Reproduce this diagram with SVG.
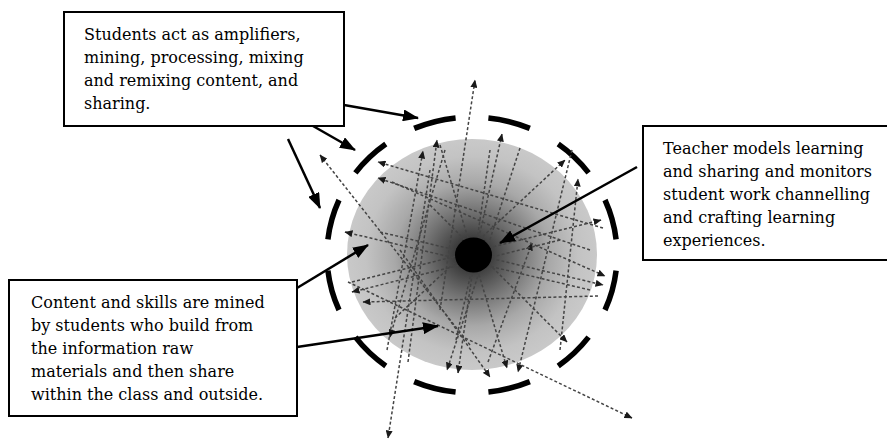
<svg xmlns="http://www.w3.org/2000/svg" width="887" height="441" viewBox="0 0 887 441">
  <style>
    .box { fill: #ffffff; stroke: #000000; stroke-width: 2; }
    .label { font-family: "DejaVu Serif", "Liberation Serif", serif; font-size: 16px; fill: #000000; }
    .pointer { fill: none; stroke: #000000; stroke-width: 2.5; marker-end: url(#bigHead); }
    .flow { fill: none; stroke: #444444; stroke-width: 1.5; stroke-dasharray: 3 2.2; marker-end: url(#smallHead); }
    .ring { fill: none; stroke: #000000; stroke-width: 5.5; }
  </style>
  <defs>
    <radialGradient id="sphereShade" cx="0.5" cy="0.5" r="0.5">
      <stop offset="0" stop-color="#1e1e1e"/>
      <stop offset="0.15" stop-color="#3e3e3e"/>
      <stop offset="0.38" stop-color="#747474"/>
      <stop offset="0.62" stop-color="#a8a8a8"/>
      <stop offset="0.85" stop-color="#c3c3c3"/>
      <stop offset="1" stop-color="#c9c9c9"/>
    </radialGradient>
    <marker id="bigHead" markerUnits="userSpaceOnUse" viewBox="0 0 16 12" refX="15" refY="6" markerWidth="16" markerHeight="12" orient="auto">
      <path d="M0,0 L16,6 L0,12 z" fill="#000000"/>
    </marker>
    <marker id="smallHead" markerUnits="userSpaceOnUse" viewBox="0 0 8 7" refX="7.5" refY="3.5" markerWidth="8" markerHeight="7" orient="auto">
      <path d="M0,0 L8,3.5 L0,7 z" fill="#1a1a1a"/>
    </marker>
  </defs>

  <rect width="887" height="441" fill="#ffffff"/>

  <!-- the class: shaded sphere with its dashed boundary -->
  <g id="class-sphere">
    <ellipse cx="472" cy="254.5" rx="125" ry="115.5" fill="url(#sphereShade)"/>
    <path class="ring" d="M414.2,128.4 A145,138 0 0 1 455.6,117.9
      M488.4,117.9 A145,138 0 0 1 529.8,128.4
      M558.2,144.1 A145,138 0 0 1 588.6,172.9
      M605.0,200.0 A145,138 0 0 1 616.1,239.4
      M616.1,270.6 A145,138 0 0 1 605.0,310.0
      M588.6,337.1 A145,138 0 0 1 558.2,365.9
      M529.8,381.6 A145,138 0 0 1 488.4,392.1
      M455.6,392.1 A145,138 0 0 1 414.2,381.6
      M385.8,365.9 A145,138 0 0 1 355.4,337.1
      M339.0,310.0 A145,138 0 0 1 327.9,270.6
      M327.9,239.4 A145,138 0 0 1 339.0,200.0
      M355.4,172.9 A145,138 0 0 1 385.8,144.1"/>
  </g>

  <g id="connectors">
    <!-- dotted flows of content mined, remixed and shared -->
    <g id="flows">
      <line class="flow" x1="440" y1="310" x2="475" y2="80"/>
      <line class="flow" x1="408" y1="362" x2="437" y2="140"/>
      <line class="flow" x1="387" y1="350" x2="423" y2="151"/>
      <line class="flow" x1="456" y1="340" x2="502" y2="134"/>
      <line class="flow" x1="395" y1="318" x2="565" y2="160"/>
      <line class="flow" x1="560" y1="350" x2="578" y2="179"/>
      <line class="flow" x1="488" y1="362" x2="532" y2="243"/>
      <line class="flow" x1="352" y1="282" x2="601" y2="220"/>
      <line class="flow" x1="392" y1="182" x2="605" y2="276"/>
      <line class="flow" x1="380" y1="232" x2="603" y2="285"/>
      <line class="flow" x1="590" y1="290" x2="345" y2="232"/>
      <line class="flow" x1="560" y1="240" x2="352" y2="292"/>
      <line class="flow" x1="598" y1="296" x2="363" y2="302"/>
      <line class="flow" x1="603" y1="228" x2="378" y2="162"/>
      <line class="flow" x1="590" y1="250" x2="378" y2="178"/>
      <line class="flow" x1="470" y1="345" x2="320" y2="155"/>
      <line class="flow" x1="445" y1="150" x2="390" y2="337"/>
      <line class="flow" x1="520" y1="148" x2="447" y2="370"/>
      <line class="flow" x1="490" y1="150" x2="458" y2="373"/>
      <line class="flow" x1="400" y1="250" x2="490" y2="377"/>
      <line class="flow" x1="440" y1="145" x2="507" y2="368"/>
      <line class="flow" x1="572" y1="150" x2="518" y2="372"/>
      <line class="flow" x1="430" y1="205" x2="567" y2="342"/>
      <line class="flow" x1="430" y1="170" x2="388" y2="438"/>
      <line class="flow" x1="348" y1="282" x2="632" y2="418"/>
    </g>
    <!-- solid pointers from the captions -->
    <g id="pointers">
      <line class="pointer" x1="344" y1="105" x2="418" y2="118"/>
      <line class="pointer" x1="313" y1="126" x2="355" y2="150"/>
      <line class="pointer" x1="288" y1="139" x2="320" y2="208"/>
      <line class="pointer" x1="297" y1="288" x2="368" y2="245"/>
      <line class="pointer" x1="297" y1="347" x2="438" y2="326"/>
      <line class="pointer" x1="637" y1="167" x2="500" y2="243"/>
    </g>
  </g>

  <!-- the teacher at the centre -->
  <g id="teacher-dot">
    <ellipse cx="473.5" cy="255" rx="18.5" ry="17.5" fill="#000000"/>
  </g>

  <g id="students-box">
    <rect class="box" x="64" y="12" width="280" height="114"/>
    <text class="label" x="84" y="39.5">
      <tspan x="84">Students act as amplifiers,</tspan>
      <tspan x="84" dy="23">mining, processing, mixing</tspan>
      <tspan x="84" dy="23">and remixing content, and</tspan>
      <tspan x="84" dy="23">sharing.</tspan>
    </text>
  </g>

  <g id="teacher-box">
    <rect class="box" x="643" y="126" width="260" height="134"/>
    <text class="label" x="663" y="154">
      <tspan x="663">Teacher models learning</tspan>
      <tspan x="663" dy="23">and sharing and monitors</tspan>
      <tspan x="663" dy="23">student work channelling</tspan>
      <tspan x="663" dy="23">and crafting learning</tspan>
      <tspan x="663" dy="23">experiences.</tspan>
    </text>
  </g>

  <g id="content-box">
    <rect class="box" x="9" y="280" width="288" height="136"/>
    <text class="label" x="31" y="308">
      <tspan x="31">Content and skills are mined</tspan>
      <tspan x="31" dy="23">by students who build from</tspan>
      <tspan x="31" dy="23">the information raw</tspan>
      <tspan x="31" dy="23">materials and then share</tspan>
      <tspan x="31" dy="23">within the class and outside.</tspan>
    </text>
  </g>
</svg>
